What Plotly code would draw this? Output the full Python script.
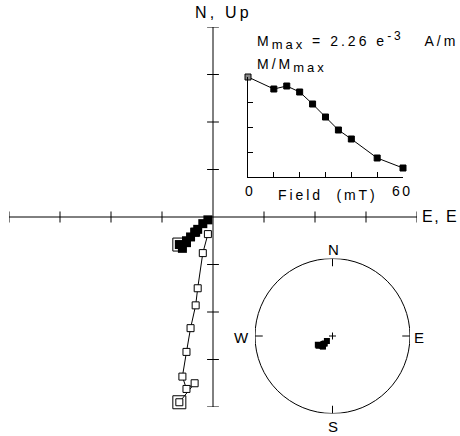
import numpy as np
import plotly.graph_objects as go

# AF demagnetisation steps (mT)
steps = [0, 10, 15, 20, 25, 30, 35, 40, 50, 60]

# Vector components (mA/m) at each step
east = [-0.33, -0.18, -0.26, -0.30, -0.26, -0.22, -0.17, -0.15, -0.10, -0.05]
north = [-0.29, -0.16, -0.25, -0.33, -0.27, -0.21, -0.16, -0.13, -0.07, -0.03]
up = [-1.95, -1.75, -1.81, -1.68, -1.42, -1.17, -0.93, -0.75, -0.38, -0.18]

# Normalised intensity M/Mmax
m_ratio = [1.00, 0.88, 0.91, 0.85, 0.73, 0.60, 0.47, 0.38, 0.19, 0.09]

# Zijderveld axis ticks (mA/m)
zij_ticks = [-2, -1.5, -1, -0.5, 0.5, 1, 1.5, 2]
inset_xticks = [10, 20, 30, 40, 50, 60]
inset_yticks = [0.25, 0.5, 0.75]

W, H = 460, 436
FONT = "Liberation Sans, Arial, Helvetica, sans-serif"


def px_x(p):
    return p / W


def px_y(p):
    return (H - p) / H


fig = go.Figure()

# ---- Zijderveld diagram ----
fig.add_trace(go.Scatter(
    x=east, y=north, mode="lines+markers", xaxis="x", yaxis="y",
    line=dict(color="black", width=1),
    marker=dict(symbol="square", size=9, color="black"),
    cliponaxis=False, showlegend=False, hoverinfo="skip"))
fig.add_trace(go.Scatter(
    x=east, y=up, mode="lines+markers", xaxis="x", yaxis="y",
    line=dict(color="black", width=1),
    marker=dict(symbol="square", size=7, color="white",
                line=dict(color="black", width=1)),
    cliponaxis=False, showlegend=False, hoverinfo="skip"))
# first step highlighted with an outer square on both projections
fig.add_trace(go.Scatter(
    x=[east[0], east[0]], y=[north[0], up[0]], mode="markers",
    xaxis="x", yaxis="y",
    marker=dict(symbol="square-open", size=13, color="black",
                line=dict(color="black", width=1)),
    cliponaxis=False, showlegend=False, hoverinfo="skip"))

shapes = []
zl = 2
shapes.append(dict(type="line", xref="x", yref="y", x0=-zl, x1=zl, y0=0, y1=0,
                   line=dict(color="black", width=1)))
shapes.append(dict(type="line", xref="x", yref="y", x0=0, x1=0, y0=-zl, y1=zl,
                   line=dict(color="black", width=1)))
tl = 0.058
for t in zij_ticks:
    shapes.append(dict(type="line", xref="x", yref="y", x0=t, x1=t, y0=-tl, y1=tl,
                       line=dict(color="black", width=1)))
    shapes.append(dict(type="line", xref="x", yref="y", x0=-tl, x1=tl, y0=t, y1=t,
                       line=dict(color="black", width=1)))

# ---- Intensity decay inset ----
fig.add_trace(go.Scatter(
    x=steps, y=m_ratio, mode="lines+markers", xaxis="x2", yaxis="y2",
    line=dict(color="black", width=1),
    marker=dict(symbol="square", size=6, color=["#888"] + ["black"] * (len(steps) - 1),
                line=dict(color="black", width=1)),
    cliponaxis=False, showlegend=False, hoverinfo="skip"))

# ---- Equal-area stereonet ----
e = np.array(east)
n = np.array(north)
d = -np.array(up)
dec = np.degrees(np.arctan2(e, n))
inc = np.degrees(np.arctan2(d, np.hypot(e, n)))
r = np.sqrt(2) * np.sin(np.radians(45 - np.abs(inc) / 2))
sx = r * np.sin(np.radians(dec))
sy = r * np.cos(np.radians(dec))
fig.add_trace(go.Scatter(
    x=sx, y=sy, mode="markers", xaxis="x3", yaxis="y3",
    marker=dict(symbol="square", size=6, color="black"),
    showlegend=False, hoverinfo="skip"))

shapes.append(dict(type="circle", xref="x3", yref="y3", x0=-1, x1=1, y0=-1, y1=1,
                   line=dict(color="black", width=1)))
for ax, ay in [(0, 1), (1, 0), (0, -1), (-1, 0)]:
    shapes.append(dict(type="line", xref="x3", yref="y3",
                       x0=ax, y0=ay, x1=ax * 0.9, y1=ay * 0.9,
                       line=dict(color="black", width=1)))
c = 0.045
shapes.append(dict(type="line", xref="x3", yref="y3", x0=-c, x1=c, y0=0, y1=0,
                   line=dict(color="black", width=1)))
shapes.append(dict(type="line", xref="x3", yref="y3", x0=0, x1=0, y0=-c, y1=c,
                   line=dict(color="black", width=1)))


# ---- Text ----
def note(text, x, y, size=15, spacing=0.0, xanchor="center", yanchor="middle"):
    if spacing:
        text = (f'<span style="font-size:{size}px;letter-spacing:{spacing}px">'
                f'{text}</span>')
    return dict(text=text, x=px_x(x), y=px_y(y),
                xref="paper", yref="paper", showarrow=False,
                xanchor=xanchor, yanchor=yanchor,
                font=dict(family=FONT, size=size, color="black"))


SUB = '<sub><span style="font-size:13px">max</span></sub>'
SUP = '<sup><span style="font-size:12px">-3</span></sup>'
annotations = [
    note("N, Up", 193, 13, size=16, spacing=3.2, xanchor="left"),
    note("E, E", 420, 217, size=16, spacing=1.5, xanchor="left"),
    note(f"M{SUB} = 2.26 e{SUP}&nbsp;&nbsp;&nbsp;A/m", 255, 40, size=14,
         spacing=3.0, xanchor="left"),
    note(f"M/M{SUB}", 255, 66, size=14, spacing=3.0, xanchor="left"),
    note("0", 249, 191, size=14),
    note("60", 402, 191, size=14, spacing=2.5),
    note("Field  (mT)", 328, 195, size=14, spacing=2.9),
    note("N", 333, 249),
    note("E", 419, 337),
    note("W", 242, 337),
    note("S", 333, 426),
]

hidden = dict(visible=False, showgrid=False, zeroline=False)
fig.update_layout(
    width=W, height=H, margin=dict(l=0, r=0, t=0, b=0),
    paper_bgcolor="white", plot_bgcolor="rgba(0,0,0,0)",
    xaxis=dict(domain=[px_x(9), px_x(417)], range=[-zl, zl], anchor="y", **hidden),
    yaxis=dict(domain=[px_y(407), px_y(27)], range=[-zl, zl], anchor="x", **hidden),
    xaxis2=dict(domain=[px_x(248), px_x(403)], range=[0, 60], anchor="y2",
                showline=True, linecolor="black", linewidth=1, mirror=False,
                ticks="inside", ticklen=5, tickcolor="black", tickwidth=1,
                tickvals=inset_xticks, showticklabels=False,
                showgrid=False, zeroline=False),
    yaxis2=dict(domain=[px_y(177), px_y(77)], range=[0, 1], anchor="x2",
                showline=True, linecolor="black", linewidth=1, mirror=False,
                ticks="inside", ticklen=5, tickcolor="black", tickwidth=1,
                tickvals=inset_yticks, showticklabels=False,
                showgrid=False, zeroline=False),
    xaxis3=dict(domain=[px_x(255), px_x(410)], range=[-1, 1], anchor="y3", **hidden),
    yaxis3=dict(domain=[px_y(413.5), px_y(258.5)], range=[-1, 1], anchor="x3", **hidden),
    shapes=shapes,
    annotations=annotations,
)

fig.write_html("out.html")
